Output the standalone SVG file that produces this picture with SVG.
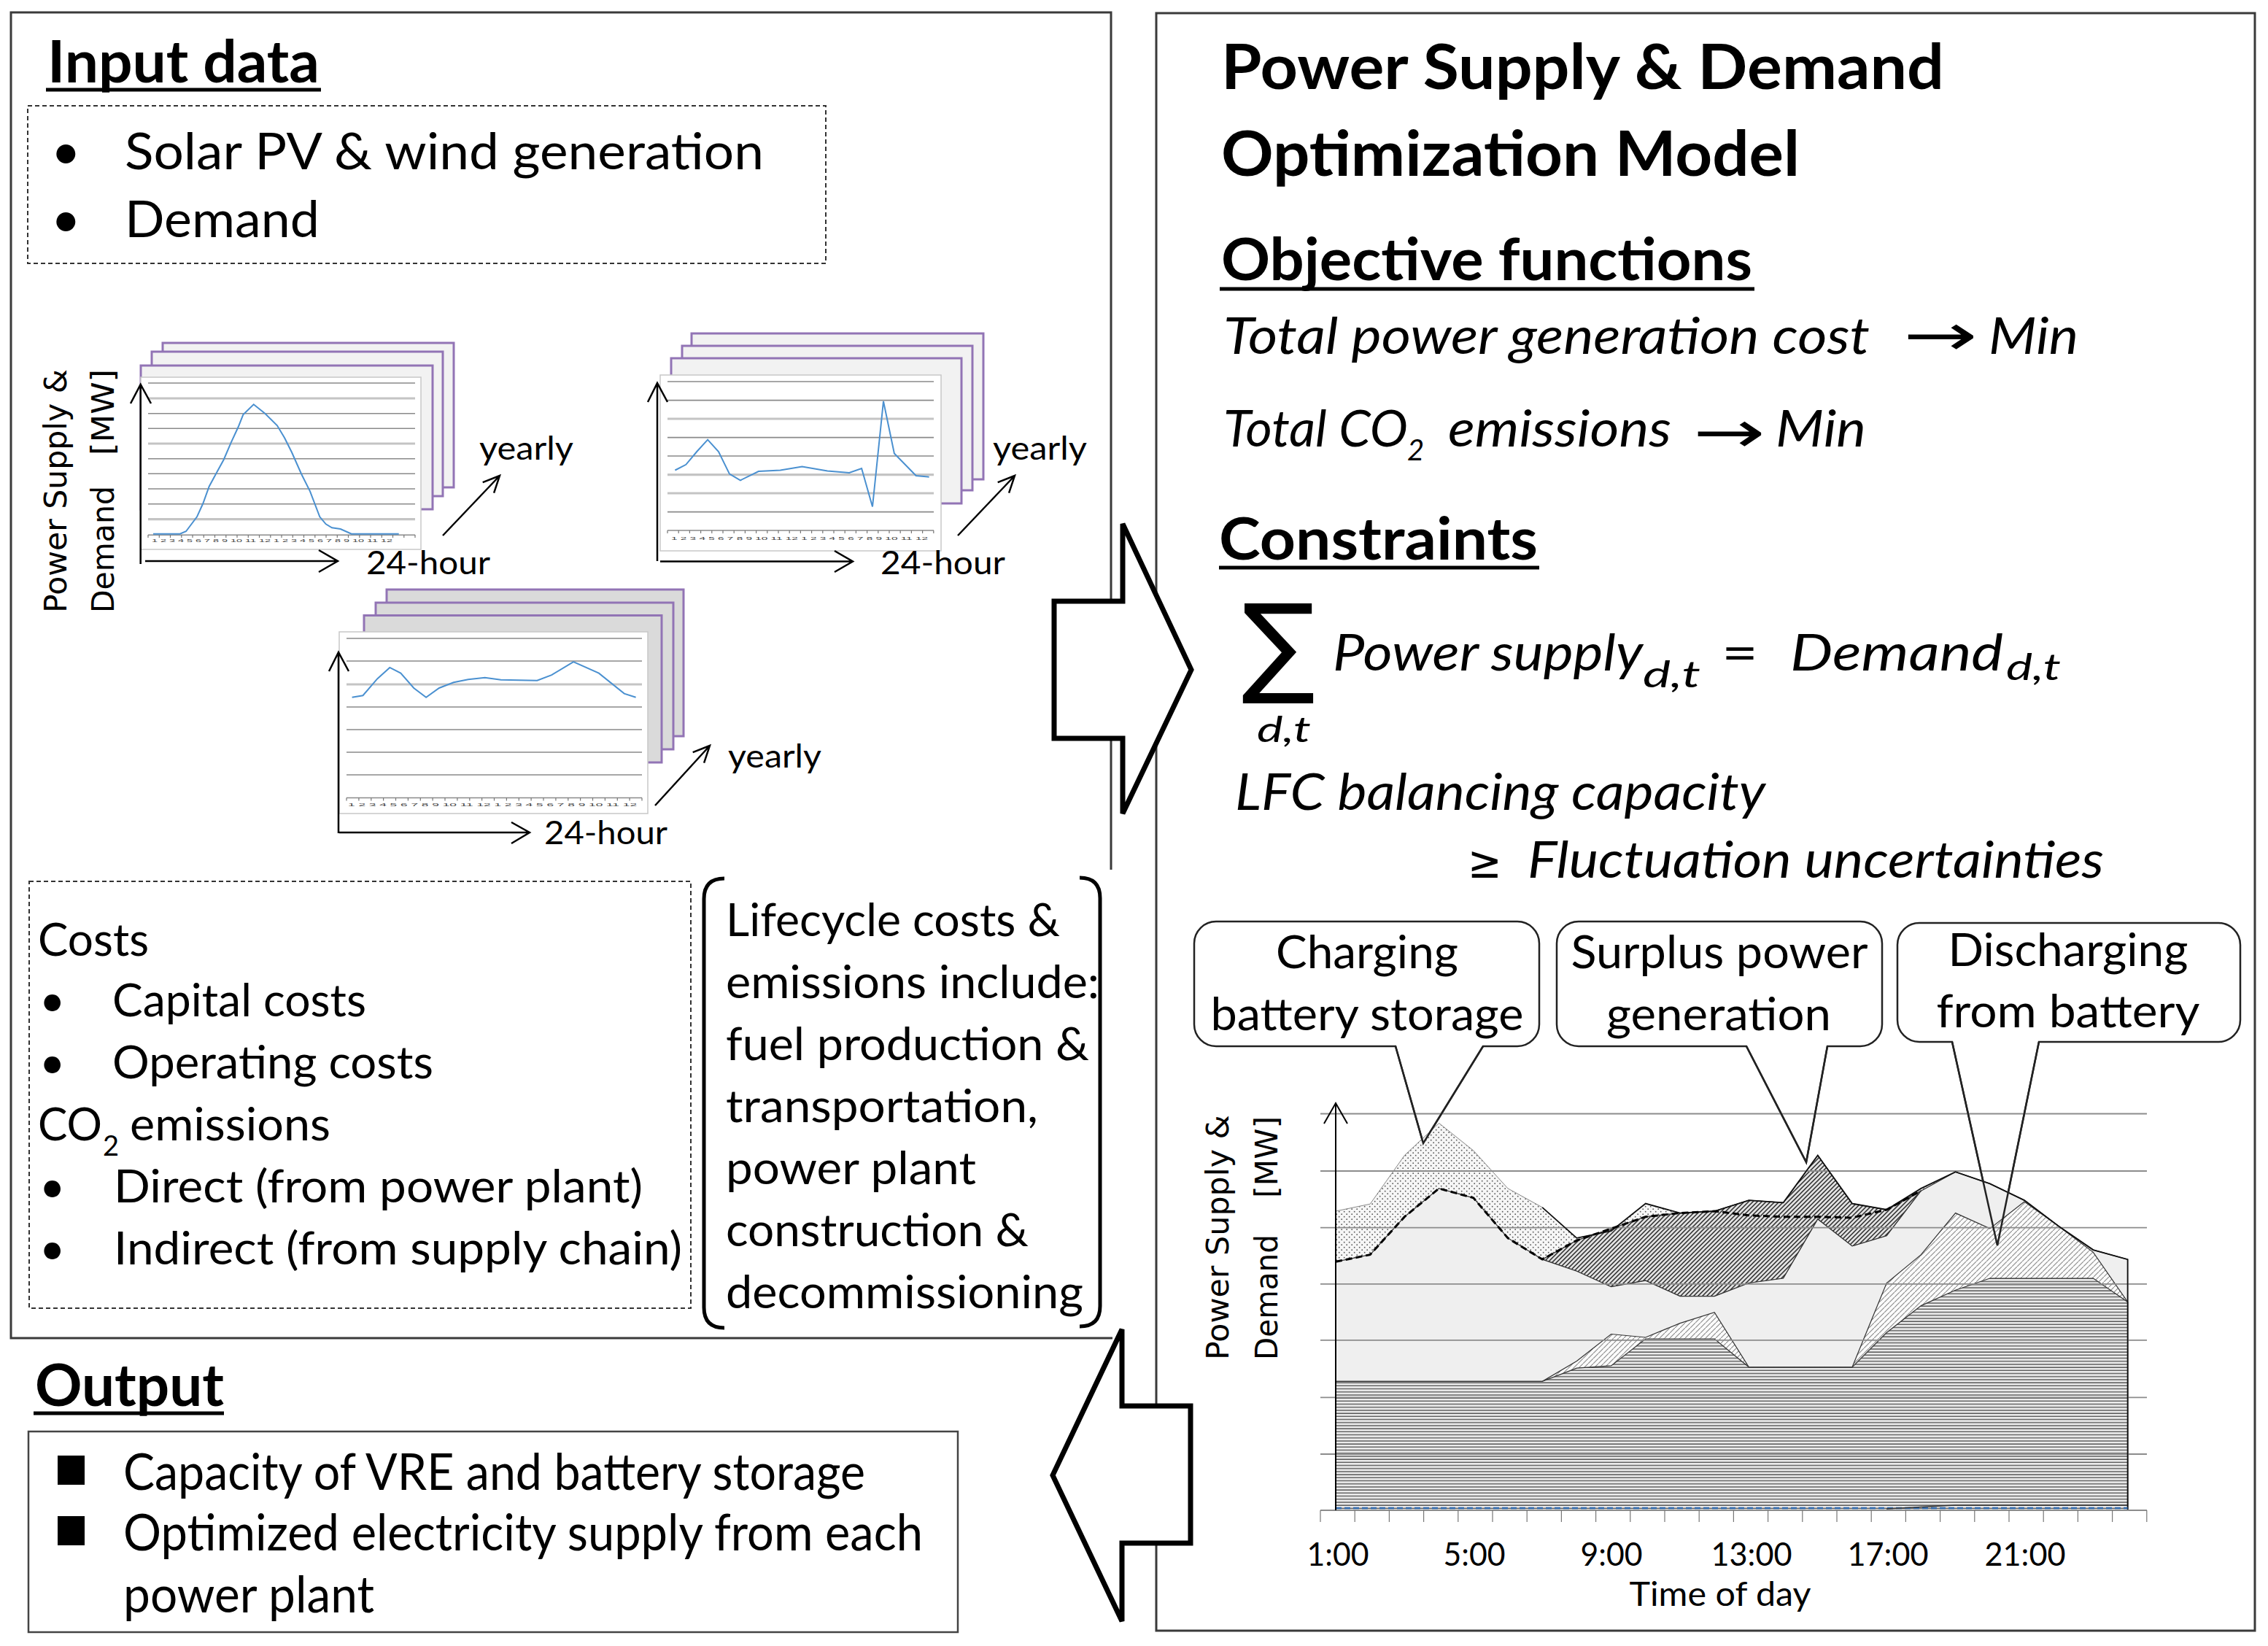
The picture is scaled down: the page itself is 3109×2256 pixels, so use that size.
<svg xmlns="http://www.w3.org/2000/svg" width="3109" height="2256" viewBox="0 0 3109 2256">
<defs>
<style>
.t{font-family:Lato,'Open Sans','Liberation Sans',sans-serif;fill:#000}
.b{font-weight:700}
.i{font-style:italic}
.v{font-family:'DejaVu Sans',Verdana,sans-serif;fill:#000}
.frame{fill:none;stroke:#3a3a3a;stroke-width:3}
.dash{fill:none;stroke:#333;stroke-width:2;stroke-dasharray:6 4}
.ul{stroke:#000;stroke-width:5}
.sheet{stroke:#9274b5;stroke-width:3}
.plot{fill:#fff;stroke:#c8c8c8;stroke-width:1.5}
.gd{stroke:#8a8a8a;stroke-width:1.6}
.gl{stroke:#c4c4c4;stroke-width:3.2}
.curve{fill:none;stroke:#4a90d0;stroke-width:2}
.ax{fill:none;stroke:#000;stroke-width:2.5}
.tk{fill:none;stroke:#777;stroke-width:1.2}
.block{fill:#fff;stroke:#000;stroke-width:7;stroke-linejoin:miter}
.callout{fill:#fff;stroke:#222;stroke-width:2.5}
.ptr{fill:none;stroke:#222;stroke-width:2.5}
.tiny{fill:#444;font-family:'Liberation Sans',sans-serif;font-size:6px}
.rg{stroke:#8c8c8c;stroke-width:1.8}
</style>
<pattern id="pH" width="8" height="4.2" patternUnits="userSpaceOnUse"><rect width="8" height="4.2" fill="#ebebeb"/><line x1="0" y1="1" x2="8" y2="1" stroke="#555" stroke-width="1.4"/></pattern>
<pattern id="pL" width="7" height="7" patternUnits="userSpaceOnUse"><rect width="7" height="7" fill="#fbfbfb"/><path d="M0,7 L7,0" stroke="#8a8a8a" stroke-width="1.1"/></pattern>
<pattern id="pD" width="6" height="6" patternUnits="userSpaceOnUse"><rect width="6" height="6" fill="#e2e2e2"/><path d="M-1,1 L1,-1 M0,6 L6,0 M5,7 L7,5" stroke="#2a2a2a" stroke-width="1.5"/></pattern>
<pattern id="pS" width="7" height="7" patternUnits="userSpaceOnUse"><rect width="7" height="7" fill="#f6f6f6"/><circle cx="1.7" cy="1.7" r="0.9" fill="#555"/><circle cx="5.2" cy="5.2" r="0.9" fill="#555"/></pattern>
</defs>
<rect width="3109" height="2256" fill="#fff"/>

<g id="input-panel">
<path class="frame" d="M1523,1192 V17 H15 V1834 H1525"/>
<text class="t b" x="65" y="113" font-size="80" textLength="373" lengthAdjust="spacingAndGlyphs">Input data</text>
<line class="ul" x1="63" y1="123" x2="440" y2="123"/>
</g>

<g id="input-list">
<rect class="dash" x="38" y="145" width="1094" height="216"/>
<text class="t" x="70" y="232" font-size="70">•</text>
<text class="t" x="171" y="232" font-size="70" textLength="876" lengthAdjust="spacingAndGlyphs">Solar PV &amp; wind generation</text>
<text class="t" x="70" y="325" font-size="70">•</text>
<text class="t" x="171" y="325" font-size="70" textLength="267" lengthAdjust="spacingAndGlyphs">Demand</text>
</g>

<g id="chart-solar">
<rect class="sheet" x="223" y="470" width="399" height="198" fill="#f2f2f2"/>
<rect class="sheet" x="208" y="482" width="399" height="198" fill="#f2f2f2"/>
<rect class="sheet" x="193" y="501" width="400" height="197" fill="#f2f2f2"/>
<rect class="plot" x="193" y="517" width="384" height="236"/>
<g>
<line class="gd" x1="203" y1="525" x2="569" y2="525"/>
<line class="gl" x1="203" y1="546" x2="569" y2="546"/>
<line class="gd" x1="203" y1="566.7" x2="569" y2="566.7"/>
<line class="gd" x1="203" y1="587.3" x2="569" y2="587.3"/>
<line class="gl" x1="203" y1="608" x2="569" y2="608"/>
<line class="gd" x1="203" y1="628.7" x2="569" y2="628.7"/>
<line class="gd" x1="203" y1="649.3" x2="569" y2="649.3"/>
<line class="gd" x1="203" y1="670" x2="569" y2="670"/>
<line class="gd" x1="203" y1="690.7" x2="569" y2="690.7"/>
<line class="gl" x1="203" y1="711.7" x2="569" y2="711.7"/>
<line class="gd" x1="203" y1="733.3" x2="569" y2="733.3"/>
</g>
<path class="tk" d="M203,733v4M218.3,733v4M233.5,733v4M248.8,733v4M264,733v4M279.3,733v4M294.5,733v4M309.8,733v4M325,733v4M340.3,733v4M355.5,733v4M370.8,733v4M386,733v4M401.3,733v4M416.5,733v4M431.8,733v4M447,733v4M462.3,733v4M477.5,733v4M492.8,733v4M508,733v4M523.3,733v4M538.5,733v4M553.8,733v4M569,733v4"/>
<text class="tiny" x="208" y="743" textLength="330" lengthAdjust="spacingAndGlyphs">1 2 3 4 5 6 7 8 9 10 11 12 1 2 3 4 5 6 7 8 9 10 11 12</text>
<polyline class="curve" points="210,731.7 246.7,731.7 255,728.3 270,708.3 278.3,690 286.7,666.7 296.7,648.3 306.7,630 316.7,606.7 326.7,585 333.3,568.3 347.7,554.3 363.3,566.7 380,583.3 390,600 400,620 413.3,650 425,673.3 438.3,708.3 446.7,718.3 455,723.3 466.7,725 481.7,731.7 546.7,731.7"/>
<path class="ax" d="M192.7,773 V527 M179,553 L192.7,527 L207,553 M199,769 H463 M437,754 L463,769 L437,784"/>
<text class="t" x="502" y="787" font-size="45" textLength="170" lengthAdjust="spacingAndGlyphs">24-hour</text>
<text class="t" x="657" y="630" font-size="45" textLength="129" lengthAdjust="spacingAndGlyphs">yearly</text>
<path class="ax" d="M607,734 L685,652 M661.7,661.2 L685,652 L677.1,675.7"/>
<text class="v" font-size="43" transform="translate(91,840) rotate(-90)" textLength="334" lengthAdjust="spacingAndGlyphs">Power Supply &amp;</text>
<text class="v" font-size="43" transform="translate(156,840) rotate(-90)" textLength="174" lengthAdjust="spacingAndGlyphs">Demand</text>
<text class="v" font-size="43" text-anchor="end" transform="translate(156,506) rotate(-90)" textLength="118" lengthAdjust="spacingAndGlyphs">[MW]</text>
</g>

<g id="chart-wind">
<rect class="sheet" x="948" y="457" width="400" height="200" fill="#f2f2f2"/>
<rect class="sheet" x="935" y="474" width="398" height="198" fill="#f2f2f2"/>
<rect class="sheet" x="920" y="491" width="398" height="199" fill="#f2f2f2"/>
<rect class="plot" x="905" y="514" width="385" height="241"/>
<g>
<line class="gd" x1="915" y1="523" x2="1280" y2="523"/>
<line class="gd" x1="915" y1="548.6" x2="1280" y2="548.6"/>
<line class="gl" x1="915" y1="574" x2="1280" y2="574"/>
<line class="gd" x1="915" y1="599.6" x2="1280" y2="599.6"/>
<line class="gd" x1="915" y1="625" x2="1280" y2="625"/>
<line class="gl" x1="915" y1="650.6" x2="1280" y2="650.6"/>
<line class="gl" x1="915" y1="676" x2="1280" y2="676"/>
<line class="gd" x1="915" y1="701.6" x2="1280" y2="701.6"/>
<line class="gd" x1="915" y1="727" x2="1280" y2="727"/>
</g>
<path class="tk" d="M915,727v4M930.2,727v4M945.4,727v4M960.6,727v4M975.8,727v4M991,727v4M1006.2,727v4M1021.4,727v4M1036.6,727v4M1051.8,727v4M1067,727v4M1082.2,727v4M1097.4,727v4M1112.6,727v4M1127.8,727v4M1143,727v4M1158.2,727v4M1173.4,727v4M1188.6,727v4M1203.8,727v4M1219,727v4M1234.2,727v4M1249.4,727v4M1264.6,727v4M1279.8,727v4"/>
<text class="tiny" x="920" y="740" textLength="352" lengthAdjust="spacingAndGlyphs">1 2 3 4 5 6 7 8 9 10 11 12 1 2 3 4 5 6 7 8 9 10 11 12</text>
<polyline class="curve" points="925.4,644.5 940.3,636.8 955.2,619 970.1,602.7 985,619 1000,649.6 1014.9,658.3 1039.8,646 1069.7,644.5 1099.5,639.4 1134.3,645.5 1164.2,648 1181.1,642 1196,694.5 1211,550 1225.9,621.5 1255.7,652 1273.6,653.7"/>
<path class="ax" d="M901,769 V525 M888,551 L901,525 L915,551 M905,769.5 H1169 M1144,755 L1169,769.5 L1144,784"/>
<text class="t" x="1207" y="787" font-size="45" textLength="171" lengthAdjust="spacingAndGlyphs">24-hour</text>
<text class="t" x="1361" y="630" font-size="45" textLength="129" lengthAdjust="spacingAndGlyphs">yearly</text>
<path class="ax" d="M1313,734 L1391,652 M1367.7,661.2 L1391,652 L1383.1,675.7"/>
</g>

<g id="chart-demand">
<rect class="sheet" x="530" y="808" width="407" height="201" fill="#dadada"/>
<rect class="sheet" x="515" y="826" width="408" height="201" fill="#dadada"/>
<rect class="sheet" x="499" y="843.5" width="408" height="201.5" fill="#dadada"/>
<rect class="plot" x="465" y="866" width="423" height="249"/>
<g>
<line class="gd" x1="475" y1="875" x2="880" y2="875"/>
<line class="gd" x1="475" y1="906" x2="880" y2="906"/>
<line class="gl" x1="475" y1="938" x2="880" y2="938"/>
<line class="gd" x1="475" y1="969" x2="880" y2="969"/>
<line class="gd" x1="475" y1="1000" x2="880" y2="1000"/>
<line class="gd" x1="475" y1="1031" x2="880" y2="1031"/>
<line class="gd" x1="475" y1="1062" x2="880" y2="1062"/>
<line class="gd" x1="475" y1="1093.5" x2="880" y2="1093.5"/>
</g>
<path class="tk" d="M475,1093.5v4M491.9,1093.5v4M508.8,1093.5v4M525.6,1093.5v4M542.5,1093.5v4M559.4,1093.5v4M576.3,1093.5v4M593.1,1093.5v4M610,1093.5v4M626.9,1093.5v4M643.8,1093.5v4M660.6,1093.5v4M677.5,1093.5v4M694.4,1093.5v4M711.3,1093.5v4M728.1,1093.5v4M745,1093.5v4M761.9,1093.5v4M778.8,1093.5v4M795.6,1093.5v4M812.5,1093.5v4M829.4,1093.5v4M846.3,1093.5v4M863.1,1093.5v4M880,1093.5v4"/>
<text class="tiny" x="477" y="1105" textLength="396" lengthAdjust="spacingAndGlyphs">1 2 3 4 5 6 7 8 9 10 11 12 1 2 3 4 5 6 7 8 9 10 11 12</text>
<polyline class="curve" points="482.6,955.7 497.5,953.2 517.4,930.2 534.3,914.9 549.3,922.6 567.2,943 584.1,955.7 602,943 621.9,935.3 641.8,931.2 664.7,928.7 686.6,931.7 736.3,932.8 756.2,925.1 786.1,907.2 820.9,922.6 855.7,950.6 871.6,955.7"/>
<path class="ax" d="M464,1142 V894 M451,920 L464,894 L478,920 M465,1141 H726 M701,1127 L726,1141 L701,1156"/>
<text class="t" x="746" y="1157" font-size="45" textLength="169" lengthAdjust="spacingAndGlyphs">24-hour</text>
<text class="t" x="998" y="1052" font-size="45" textLength="128" lengthAdjust="spacingAndGlyphs">yearly</text>
<path class="ax" d="M898,1104 L973,1022 M949.7,1031.2 L973,1022 L965.1,1045.7"/>
</g>

<g id="costs-box">
<rect class="dash" x="40" y="1208" width="907" height="585"/>
<text class="t" x="52" y="1310" font-size="61" textLength="152" lengthAdjust="spacingAndGlyphs">Costs</text>
<text class="t" x="54" y="1393" font-size="61">•</text>
<text class="t" x="154" y="1393" font-size="61" textLength="348" lengthAdjust="spacingAndGlyphs">Capital costs</text>
<text class="t" x="54" y="1478" font-size="61">•</text>
<text class="t" x="154" y="1478" font-size="61" textLength="440" lengthAdjust="spacingAndGlyphs">Operating costs</text>
<text class="t" x="52" y="1563" font-size="61" textLength="88" lengthAdjust="spacingAndGlyphs">CO</text>
<text class="t" x="141" y="1584" font-size="38">2</text>
<text class="t" x="178" y="1563" font-size="61" textLength="275" lengthAdjust="spacingAndGlyphs">emissions</text>
<text class="t" x="54" y="1648" font-size="61">•</text>
<text class="t" x="156" y="1648" font-size="61" textLength="725" lengthAdjust="spacingAndGlyphs">Direct (from power plant)</text>
<text class="t" x="54" y="1733" font-size="61">•</text>
<text class="t" x="156" y="1733" font-size="61" textLength="779" lengthAdjust="spacingAndGlyphs">Indirect (from supply chain)</text>
</g>

<g id="lifecycle-box">
<path fill="none" stroke="#000" stroke-width="5" d="M993,1204 Q965,1204 965,1232 V1792 Q965,1820 993,1820"/>
<path fill="none" stroke="#000" stroke-width="5" d="M1480,1203 Q1508,1203 1508,1231 V1790 Q1508,1818 1480,1818"/>
<text class="t" x="995" y="1283" font-size="61" textLength="458" lengthAdjust="spacingAndGlyphs">Lifecycle costs &amp;</text>
<text class="t" x="995" y="1368" font-size="61" textLength="512" lengthAdjust="spacingAndGlyphs">emissions include:</text>
<text class="t" x="995" y="1453" font-size="61" textLength="498" lengthAdjust="spacingAndGlyphs">fuel production &amp;</text>
<text class="t" x="995" y="1538" font-size="61" textLength="428" lengthAdjust="spacingAndGlyphs">transportation,</text>
<text class="t" x="995" y="1623" font-size="61" textLength="343" lengthAdjust="spacingAndGlyphs">power plant</text>
<text class="t" x="995" y="1708" font-size="61" textLength="415" lengthAdjust="spacingAndGlyphs">construction &amp;</text>
<text class="t" x="995" y="1793" font-size="61" textLength="490" lengthAdjust="spacingAndGlyphs">decommissioning</text>
</g>

<g id="output-box">
<text class="t b" x="48" y="1927" font-size="80" textLength="259" lengthAdjust="spacingAndGlyphs">Output</text>
<line class="ul" x1="46" y1="1937" x2="307" y2="1937"/>
<rect x="39" y="1962" width="1274" height="275" fill="none" stroke="#444" stroke-width="2.5"/>
<rect x="79" y="1995" width="37" height="40" fill="#000"/>
<rect x="79" y="2078" width="37" height="40" fill="#000"/>
<text class="t" x="169" y="2042" font-size="70" textLength="1017" lengthAdjust="spacingAndGlyphs">Capacity of VRE and battery storage</text>
<text class="t" x="169" y="2125" font-size="70" textLength="1096" lengthAdjust="spacingAndGlyphs">Optimized electricity supply from each</text>
<text class="t" x="169" y="2210" font-size="70" textLength="344" lengthAdjust="spacingAndGlyphs">power plant</text>
</g>

<g id="model-panel">
<rect class="frame" x="1585" y="18" width="1506" height="2217"/>
<text class="t b" x="1674" y="122" font-size="86" textLength="991" lengthAdjust="spacingAndGlyphs">Power Supply &amp; Demand</text>
<text class="t b" x="1674" y="241" font-size="86" textLength="793" lengthAdjust="spacingAndGlyphs">Optimization Model</text>
</g>

<g id="objectives">
<text class="t b" x="1674" y="384" font-size="80" textLength="728" lengthAdjust="spacingAndGlyphs">Objective functions</text>
<line class="ul" x1="1672" y1="396" x2="2405" y2="396"/>
<text class="t i" x="1677" y="485" font-size="70" textLength="886" lengthAdjust="spacingAndGlyphs">Total power generation cost</text>
<text class="v" x="2609" y="487" font-size="80" textLength="102" lengthAdjust="spacingAndGlyphs">→</text>
<text class="t i" x="2726" y="485" font-size="70" textLength="123" lengthAdjust="spacingAndGlyphs">Min</text>
<text class="t i" x="1677" y="612" font-size="70" textLength="253" lengthAdjust="spacingAndGlyphs">Total CO</text>
<text class="t i" x="1929" y="631" font-size="40">2</text>
<text class="t i" x="1985" y="612" font-size="70" textLength="306" lengthAdjust="spacingAndGlyphs">emissions</text>
<text class="v" x="2321" y="620" font-size="80" textLength="99" lengthAdjust="spacingAndGlyphs">→</text>
<text class="t i" x="2434" y="612" font-size="70" textLength="124" lengthAdjust="spacingAndGlyphs">Min</text>
</g>

<g id="constraints">
<text class="t b" x="1671" y="767" font-size="80" textLength="437" lengthAdjust="spacingAndGlyphs">Constraints</text>
<line class="ul" x1="1671" y1="778" x2="2110" y2="778"/>
<text class="v" x="1702" y="935" font-size="150">∑</text>
<text class="t i" x="1723" y="1017" font-size="48" textLength="74" lengthAdjust="spacingAndGlyphs">d,t</text>
<text class="t i" x="1827" y="919" font-size="70" textLength="425" lengthAdjust="spacingAndGlyphs">Power supply</text>
<text class="t i" x="2252" y="942" font-size="50" textLength="79" lengthAdjust="spacingAndGlyphs">d,t</text>
<text class="t" x="2360" y="919" font-size="70" textLength="50" lengthAdjust="spacingAndGlyphs">=</text>
<text class="t i" x="2454" y="919" font-size="70" textLength="292" lengthAdjust="spacingAndGlyphs">Demand</text>
<text class="t i" x="2750" y="932" font-size="50" textLength="75" lengthAdjust="spacingAndGlyphs">d,t</text>
<text class="t i" x="1693" y="1110" font-size="70" textLength="727" lengthAdjust="spacingAndGlyphs">LFC balancing capacity</text>
<text class="v" x="2012" y="1203" font-size="62" textLength="47" lengthAdjust="spacingAndGlyphs">≥</text>
<text class="t i" x="2094" y="1203" font-size="70" textLength="790" lengthAdjust="spacingAndGlyphs">Fluctuation uncertainties</text>
</g>

<g id="callout-charging">
<path class="callout" d="M1667,1263 H2080 A30,30 0 0 1 2110,1293 V1404 A30,30 0 0 1 2080,1434 H2033 L1951,1567 L1913,1434 H1667 A30,30 0 0 1 1637,1404 V1293 A30,30 0 0 1 1667,1263 Z"/>
<text class="t" x="1874" y="1327" font-size="61" text-anchor="middle" textLength="250" lengthAdjust="spacingAndGlyphs">Charging</text>
<text class="t" x="1874" y="1412" font-size="61" text-anchor="middle" textLength="429" lengthAdjust="spacingAndGlyphs">battery storage</text>
</g>
<g id="callout-surplus">
<path class="callout" d="M2164,1263 H2550 A30,30 0 0 1 2580,1293 V1404 A30,30 0 0 1 2550,1434 H2505 L2476,1593 L2394,1434 H2164 A30,30 0 0 1 2134,1404 V1293 A30,30 0 0 1 2164,1263 Z"/>
<text class="t" x="2357" y="1327" font-size="61" text-anchor="middle" textLength="407" lengthAdjust="spacingAndGlyphs">Surplus power</text>
<text class="t" x="2356" y="1412" font-size="61" text-anchor="middle" textLength="308" lengthAdjust="spacingAndGlyphs">generation</text>
</g>
<g id="callout-discharging">
<path class="callout" d="M2631,1265 H3041 A30,30 0 0 1 3071,1295 V1398 A30,30 0 0 1 3041,1428 H2795 L2738,1707 L2676,1428 H2631 A30,30 0 0 1 2601,1398 V1295 A30,30 0 0 1 2631,1265 Z"/>
<text class="t" x="2835" y="1324" font-size="61" text-anchor="middle" textLength="329" lengthAdjust="spacingAndGlyphs">Discharging</text>
<text class="t" x="2835" y="1408" font-size="61" text-anchor="middle" textLength="361" lengthAdjust="spacingAndGlyphs">from battery</text>
</g>

<g id="result-chart">
<polygon fill="url(#pS)" stroke="#888" stroke-width="1" points="1831,1660 1878.2,1650.2 1925.4,1583.5 1972.6,1539.4 2019.8,1577 2067,1628.9 2114.2,1654.8 2161.4,1696.9 2208.6,1687.2 2255.8,1649.6 2303,1662.6 2350.2,1660 2397.4,1645.1 2444.6,1648.3 2491.8,1583.5 2539,1649.6 2586.2,1658 2633.4,1628.9 2680.6,1606.2 2727.8,1622.4 2775,1645.1 2822.2,1680.7 2869.4,1713.1 2916.6,1726.1 2916.6,2070 1831,2070"/>
<polygon fill="url(#pD)" stroke="#333" stroke-width="1.2" points="2114.2,1726.1 2161.4,1700.1 2208.6,1684 2255.8,1667.7 2303,1662.6 2350.2,1660 2397.4,1645.1 2444.6,1648.3 2491.8,1583.5 2539,1649.6 2586.2,1658 2633.4,1632.1 2586.2,1693.7 2539,1707.9 2491.8,1671 2444.6,1752 2397.4,1758.5 2350.2,1776.6 2303,1776.6 2255.8,1755.2 2208.6,1763.7 2161.4,1742.3"/>
<polygon fill="#efefef" stroke="#333" stroke-width="1.2" points="1831,1729.3 1878.2,1719.6 1925.4,1667.7 1972.6,1628.9 2019.8,1641.8 2067,1696.9 2114.2,1726.1 2161.4,1742.3 2208.6,1763.7 2255.8,1755.2 2303,1776.6 2350.2,1776.6 2397.4,1758.5 2444.6,1752 2491.8,1671 2539,1707.9 2586.2,1693.7 2633.4,1632.1 2680.6,1606.2 2727.8,1622.4 2775,1645.1 2822.2,1680.7 2869.4,1713.1 2916.6,1726.1 2916.6,2070 1831,2070"/>
<polygon fill="url(#pL)" stroke="#333" stroke-width="1.2" points="1831,1893.3 2114.2,1893.3 2161.4,1865.4 2208.6,1828.5 2255.8,1833 2303,1813.6 2350.2,1798.7 2397.4,1873.8 2539,1873.8 2586.2,1758.5 2633.4,1719.6 2680.6,1662.6 2727.8,1683.9 2775,1647 2822.2,1680.7 2869.4,1716.3 2916.6,1784.4 2916.6,2070 1831,2070"/>
<polygon fill="url(#pH)" stroke="#333" stroke-width="1.2" points="1831,1893.3 2114.2,1893.3 2161.4,1875.1 2208.6,1871.9 2255.8,1835 2350.2,1835 2397.4,1873.8 2539,1873.8 2586.2,1826.5 2633.4,1789.6 2680.6,1768.2 2727.8,1752 2869.4,1752 2916.6,1784.4 2916.6,2070 1831,2070"/>
<g>
<line class="rg" x1="1810" y1="1526.5" x2="2943" y2="1526.5"/>
<line class="rg" x1="1810" y1="1605" x2="2943" y2="1605"/>
<line class="rg" x1="1810" y1="1682.6" x2="2943" y2="1682.6"/>
<line class="rg" x1="1810" y1="1759.8" x2="2943" y2="1759.8"/>
<line class="rg" x1="1810" y1="1836.9" x2="2943" y2="1836.9"/>
<line class="rg" x1="1810" y1="1915.3" x2="2943" y2="1915.3"/>
<line class="rg" x1="1810" y1="1993" x2="2943" y2="1993"/>
</g>
<polyline fill="none" stroke="#111" stroke-width="1.8" points="2114.2,1654.8 2161.4,1696.9 2208.6,1687.2 2255.8,1649.6 2303,1662.6 2350.2,1660 2397.4,1645.1 2444.6,1648.3 2491.8,1583.5 2539,1649.6 2586.2,1658 2633.4,1628.9 2680.6,1606.2 2727.8,1622.4 2775,1645.1 2822.2,1680.7 2869.4,1713.1 2916.6,1726.1 2916.6,2070"/>
<polyline fill="none" stroke="#000" stroke-width="3" stroke-dasharray="9 5" points="1831,1729.3 1878.2,1719.6 1925.4,1667.7 1972.6,1628.9 2019.8,1641.8 2067,1696.9 2114.2,1726.1 2161.4,1700.1 2208.6,1684 2255.8,1667.7 2303,1662.6 2350.2,1660 2397.4,1665.8 2444.6,1667.7 2491.8,1667.7 2539,1669 2586.2,1658 2633.4,1632.1"/>
<line x1="1831" y1="2067" x2="2916.6" y2="2067" stroke="#2a64a8" stroke-width="2.5" stroke-dasharray="8 4"/>
<path d="M2586,2068 L2680,2063 L2916,2063" fill="none" stroke="#333" stroke-width="1.5"/>
<line x1="1810" y1="2070" x2="2943" y2="2070" stroke="#8c8c8c" stroke-width="2"/>
<path class="tk" stroke="#8c8c8c" stroke-width="1.8" d="M1810,2070v16M1857.2,2070v16M1904.4,2070v16M1951.6,2070v16M1998.8,2070v16M2046,2070v16M2093.2,2070v16M2140.4,2070v16M2187.6,2070v16M2234.8,2070v16M2282,2070v16M2329.2,2070v16M2376.4,2070v16M2423.6,2070v16M2470.8,2070v16M2518,2070v16M2565.2,2070v16M2612.4,2070v16M2659.6,2070v16M2706.8,2070v16M2754,2070v16M2801.2,2070v16M2848.4,2070v16M2895.6,2070v16M2942.8,2070v16"/>
<path fill="none" stroke="#000" stroke-width="2" d="M1831,2070 V1512 M1815,1540 L1831,1512 L1847,1540"/>
<text class="t" x="1834" y="2146" font-size="44" text-anchor="middle" textLength="85" lengthAdjust="spacingAndGlyphs">1:00</text>
<text class="t" x="2021" y="2146" font-size="44" text-anchor="middle" textLength="85" lengthAdjust="spacingAndGlyphs">5:00</text>
<text class="t" x="2209" y="2146" font-size="44" text-anchor="middle" textLength="85" lengthAdjust="spacingAndGlyphs">9:00</text>
<text class="t" x="2401" y="2146" font-size="44" text-anchor="middle" textLength="111" lengthAdjust="spacingAndGlyphs">13:00</text>
<text class="t" x="2588" y="2146" font-size="44" text-anchor="middle" textLength="111" lengthAdjust="spacingAndGlyphs">17:00</text>
<text class="t" x="2776" y="2146" font-size="44" text-anchor="middle" textLength="111" lengthAdjust="spacingAndGlyphs">21:00</text>
<text class="t" x="2358" y="2201" font-size="47" text-anchor="middle" textLength="249" lengthAdjust="spacingAndGlyphs">Time of day</text>
<text class="v" font-size="43" transform="translate(1684,1864) rotate(-90)" textLength="336" lengthAdjust="spacingAndGlyphs">Power Supply &amp;</text>
<text class="v" font-size="43" transform="translate(1751,1864) rotate(-90)" textLength="172" lengthAdjust="spacingAndGlyphs">Demand</text>
<text class="v" font-size="43" text-anchor="end" transform="translate(1751,1530) rotate(-90)" textLength="112" lengthAdjust="spacingAndGlyphs">[MW]</text>
<polyline class="ptr" points="1913,1434 1951,1567 2033,1434"/>
<polyline class="ptr" points="2394,1434 2476,1593 2505,1434"/>
<polyline class="ptr" points="2676,1428 2738,1707 2795,1428"/>
</g>

<g id="connectors">
<polygon class="block" points="1445,824 1539,824 1539,718 1633,918 1539,1115 1539,1012 1445,1012"/>
<polygon class="block" points="1632,1927 1538,1927 1538,1822 1443,2022 1538,2222 1538,2115 1632,2115"/>
</g>
</svg>
